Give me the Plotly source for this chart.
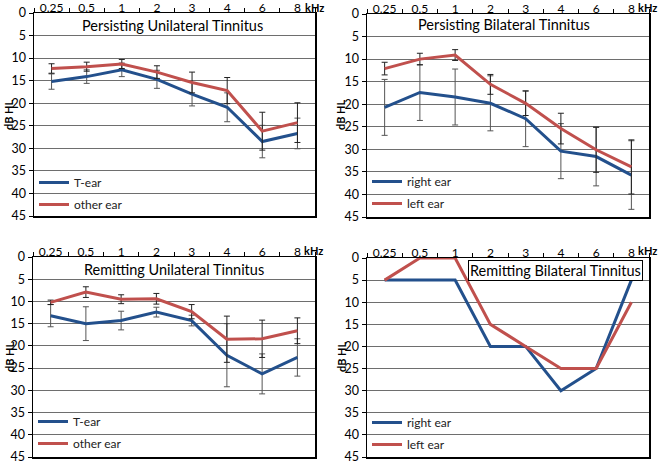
import plotly.graph_objects as go

freqs = ["0.25", "0.5", "1", "2", "3", "4", "6", "8"]

# Persisting Unilateral Tinnitus
pu_t = [15.2, 14.1, 12.6, 14.7, 18.0, 20.9, 28.5, 26.7]
pu_t_err = [1.7, 1.5, 1.5, 2.0, 2.6, 3.2, 3.6, 3.4]
pu_o = [12.3, 11.9, 11.3, 13.1, 15.4, 17.2, 26.2, 24.3]
pu_o_err = [1.05, 1.0, 1.0, 1.4, 2.3, 2.9, 4.2, 4.4]

# Persisting Bilateral Tinnitus
pb_r = [20.7, 17.4, 18.4, 19.8, 23.2, 30.4, 31.6, 35.7]
pb_r_err = [6.2, 6.2, 6.2, 6.1, 6.2, 6.1, 6.5, 7.6]
pb_l = [12.1, 10.0, 9.1, 15.6, 19.8, 25.4, 30.1, 33.9]
pb_l_err = [1.4, 1.3, 1.2, 2.2, 2.7, 3.4, 5.0, 6.0]

# Remitting Unilateral Tinnitus
ru_t = [13.2, 15.0, 14.3, 12.4, 14.3, 22.1, 26.3, 22.6]
ru_t_err = [2.5, 3.8, 2.1, 1.1, 1.2, 7.1, 4.5, 4.2]
ru_o = [10.2, 7.9, 9.5, 9.4, 12.3, 18.5, 18.4, 16.6]
ru_o_err = [0.5, 1.2, 1.0, 1.2, 1.6, 5.2, 4.2, 2.9]

# Remitting Bilateral Tinnitus
rb_r = [5, 5, 5, 20, 20, 30, 25, 5]
rb_l = [5, 0, 0, 15, 20, 25, 25, 10]

yticks = [0, 5, 10, 15, 20, 25, 30, 35, 40, 45]

BLUE = "#23508C"
RED = "#C0504D"
FONT = "Lato"

W, H = 660, 467

def px(x):
    return x / W

def py(y):
    return 1 - y / H

panels = [
    dict(title="Persisting Unilateral Tinnitus", xd=[px(34), px(315)], yd=[py(216), py(13)],
         names=["T-ear", "other ear"], data=[(pu_t, pu_t_err), (pu_o, pu_o_err)],
         tpos=(172, 26), leg=(34, 168), box=False, khz=(326, 7), ytitle=(9, 115)),
    dict(title="Persisting Bilateral Tinnitus", xd=[px(367), px(649)], yd=[py(217), py(14)],
         names=["right ear", "left ear"], data=[(pb_r, pb_r_err), (pb_l, pb_l_err)],
         tpos=(504, 25), leg=(367, 167), box=False, khz=(659, 7), ytitle=(341, 115)),
    dict(title="Remitting Unilateral Tinnitus", xd=[px(33), px(315)], yd=[py(457), py(257)],
         names=["T-ear", "other ear"], data=[(ru_t, ru_t_err), (ru_o, ru_o_err)],
         tpos=(174, 269), leg=(33, 407), box=False, khz=(325, 250), ytitle=(9, 357)),
    dict(title="Remitting Bilateral Tinnitus", xd=[px(367), px(649)], yd=[py(457), py(258)],
         names=["right ear", "left ear"], data=[(rb_r, None), (rb_l, None)],
         tpos=(555, 270), leg=(367, 408), box=True, khz=(659, 250), ytitle=(341, 357)),
]

fig = go.Figure()
annotations = []
layout = dict(
    width=W, height=H, margin=dict(l=0, r=0, t=0, b=0, autoexpand=False),
    paper_bgcolor="white", plot_bgcolor="white",
    font=dict(family=FONT, color="black"),
    showlegend=True,
)

for i, p in enumerate(panels):
    n = "" if i == 0 else str(i + 1)
    xa, ya = "x" + n, "y" + n
    lg = "legend" + n
    for (vals, err), name, col, ecol in zip(p["data"], p["names"], [BLUE, RED], ["#555555", "#222222"]):
        tr = dict(x=freqs, y=vals, name=name, mode="lines", xaxis=xa, yaxis=ya,
                  line=dict(color=col, width=3), legend=lg, cliponaxis=False,
                  legendgroup=f"{i}{name}")
        if err is not None:
            tr["error_y"] = dict(type="data", array=err, symmetric=True,
                                 color=ecol, thickness=1, width=3)
        fig.add_trace(go.Scatter(**tr))

    layout["xaxis" + n] = dict(
        domain=p["xd"], anchor=ya, side="top", type="category",
        categoryorder="array", categoryarray=freqs, automargin=False,
        range=[-0.5, 7.5], tickson="boundaries", ticks="outside", ticklen=4,
        tickcolor="black", showline=True, linecolor="black", linewidth=1.5,
        mirror=True, showgrid=False, zeroline=False, layer="below traces",
        tickfont=dict(size=12, family=FONT), ticklabelstandoff=-5,
    )
    layout["yaxis" + n] = dict(
        domain=p["yd"], anchor=xa, range=[45, 0], tickmode="array", automargin=False,
        tickvals=yticks, ticks="outside", ticklen=4, tickcolor="black",
        showline=True, linecolor="black", linewidth=1.5, mirror=True,
        showgrid=True, gridcolor="#6e6e6e", gridwidth=1, zeroline=False,
        layer="below traces",
        tickfont=dict(size=12.5, family=FONT),
    )
    layout[lg] = dict(
        x=px(p["leg"][0]), y=py(p["leg"][1]), xanchor="left", yanchor="top",
        bgcolor="rgba(0,0,0,0)", font=dict(size=12, family=FONT, color="#222"),
        tracegroupgap=3, itemwidth=30,
    )
    ann = dict(text=p["title"], x=px(p["tpos"][0]), y=py(p["tpos"][1]),
               xref="paper", yref="paper", xanchor="center", yanchor="middle",
               showarrow=False, font=dict(size=14.5, family=FONT, color="black"))
    if p["box"]:
        ann.update(bgcolor="white", bordercolor="black", borderwidth=1, borderpad=1)
    annotations.append(ann)
    annotations.append(dict(text="<b>kHz</b>", x=px(p["khz"][0]), y=py(p["khz"][1]),
                            xref="paper", yref="paper", xanchor="right", yanchor="middle",
                            showarrow=False, font=dict(size=11, family=FONT, color="black")))
    annotations.append(dict(text="<b>dB HL</b>", x=px(p["ytitle"][0]), y=py(p["ytitle"][1]),
                            xref="paper", yref="paper", xanchor="center", yanchor="middle",
                            textangle=-90, showarrow=False,
                            font=dict(size=11, family=FONT, color="black")))

layout["annotations"] = annotations
fig.update_layout(**layout)
fig.write_html("out.html", config={"displayModeBar": False, "staticPlot": True},
               post_script="document.body.style.margin='0';document.body.style.overflow='hidden';")
